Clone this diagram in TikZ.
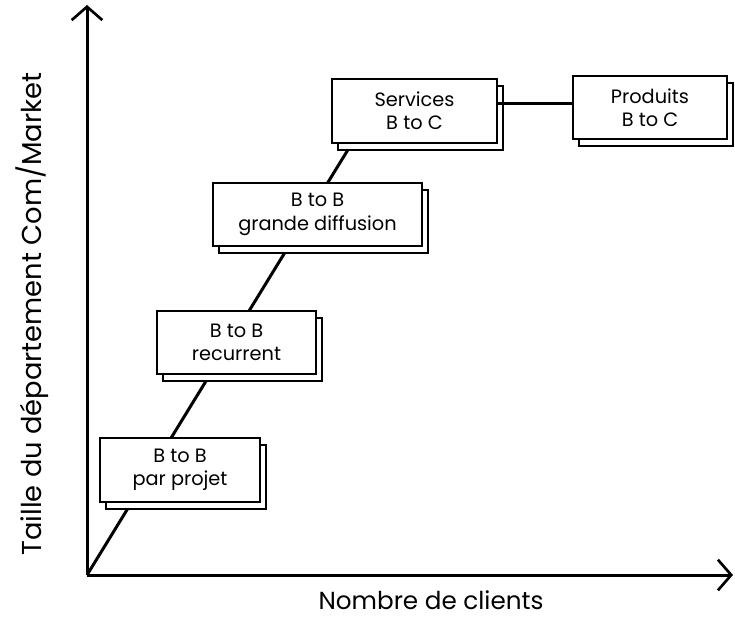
\documentclass[tikz,border=0pt]{standalone}
\usepackage{fontspec}
\setmainfont{Poppins}
\usetikzlibrary{arrows.meta,shadows}
\begin{document}
\begin{tikzpicture}[x=0.75pt,y=-0.75pt,
  axis/.style={line width=2.25pt,-{Straight Barb[length=10pt,width=23pt,line width=2pt]}},
  link/.style={line width=2.25pt},
  card/.style={draw,fill=white,line width=1.5pt,align=center,inner sep=0pt,
    font=\fontsize{14.5}{17.5}\selectfont,
    copy shadow={shadow xshift=4.5pt,shadow yshift=-5.25pt}},
  lbl/.style={font=\fontsize{18.5}{22}\selectfont}]
\useasboundingbox (0,0) rectangle (735,618);
\coordinate (O) at (87,575);
\coordinate (ytop) at (87,5);
\coordinate (xend) at (733,575);
\coordinate (dend) at (357,135);
\draw[axis] (O) -- (ytop);
\draw[axis] (O) -- (xend);
\draw[link] (O) -- (dend);
\node[card,minimum width=120pt,minimum height=48pt] (p1) at (180,470) {B to B\\par projet};
\node[card,minimum width=119.25pt,minimum height=47.25pt] (p2) at (236.5,342.5) {B to B\\recurrent};
\node[card,minimum width=156.75pt,minimum height=47.25pt] (p3) at (317.5,214.5) {B to B\\grande diffusion};
\node[card,minimum width=123.75pt,minimum height=48pt] (svc) at (414.5,111) {Services\\B to C};
\node[card,minimum width=115.5pt,minimum height=47.25pt] (prod) at (650,107.5) {Produits\\B to C};
\draw[link] ([yshift=6pt]svc.east) -- ([yshift=6pt]svc.east -| prod.west);
\node[lbl,inner sep=0pt] (xl) at (431,600) {Nombre de clients};
\node[lbl,rotate=90,font=\fontsize{20.5}{24}\selectfont] (yl) at (32,314) {Taille du département Com/Market};
\end{tikzpicture}
\end{document}
